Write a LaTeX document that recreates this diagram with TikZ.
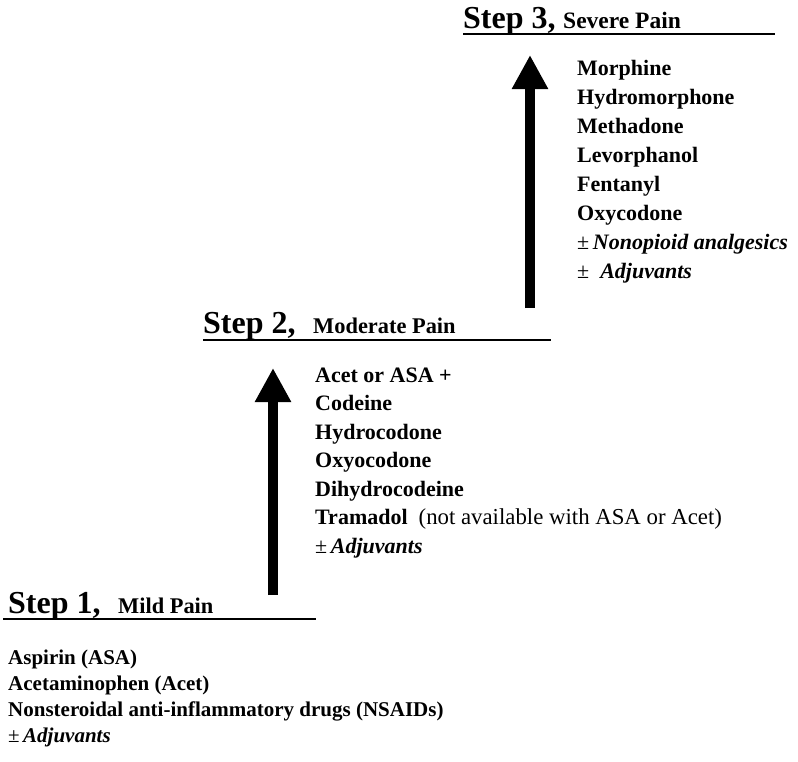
\documentclass[tikz,border=0pt]{standalone}
\usepackage{fontspec}
\setmainfont{Liberation Serif}
\usetikzlibrary{arrows.meta,positioning}
\newcommand{\plusminus}{{\mdseries ±}}

\begin{document}
\begin{tikzpicture}[
  x=1pt,y=-1pt,
  steptitle/.style={anchor=base west,inner sep=0pt,font=\bfseries\fontsize{32}{32}\selectfont},
  paintitle/.style={anchor=base west,inner sep=0pt,font=\bfseries\fontsize{22.4}{22.4}\selectfont},
  druglist/.style={anchor=base west,inner sep=0pt,align=left,font=\bfseries\fontsize{22}{29}\selectfont},
  rule/.style={line width=1.8pt},
  uparr/.style={line width=10pt,-{Triangle[length=34pt,width=34pt]}}
]
  \useasboundingbox (0,0) rectangle (798,761);

  % step 1 (lists sit on the baseline of their last line)
  \node[steptitle] (step1) at (8,613) {Step 1,};
  \node[paintitle] (mild) at (118,613) {Mild Pain};
  \draw[rule] (3,619) -- (316,619);
  \node[druglist,font=\bfseries\fontsize{21}{25.7}\selectfont] (list1) at (8,742)
    {Aspirin (ASA)\\
     Acetaminophen (Acet)\\
     Nonsteroidal anti-inflammatory drugs (NSAIDs)\\
     \plusminus\,\textit{Adjuvants}};

  % step 2
  \node[steptitle] (step2) at (203,333) {Step 2,};
  \node[paintitle] (moderate) at (313,333) {Moderate Pain};
  \draw[rule] (203,340) -- (551,340);
  \node[druglist,font=\bfseries\fontsize{22}{28.5}\selectfont] (list2) at (315,553)
    {Acet or ASA +\\
     Codeine\\
     Hydrocodone\\
     Oxyocodone\\
     Dihydrocodeine\\
     Tramadol\ \ {\mdseries\fontsize{22.8}{28.5}\selectfont (not available with ASA or Acet)}\\
     \plusminus\,\textit{Adjuvants}};

  % step 3
  \node[steptitle] (step3) at (463,28) {Step 3,};
  \node[paintitle,font=\bfseries\fontsize{23.5}{23.5}\selectfont] (severe) at (563,28) {Severe Pain};
  \draw[rule] (463,34) -- (775,34);
  \node[druglist] (list3) at (577,278)
    {Morphine\\
     Hydromorphone\\
     Methadone\\
     Levorphanol\\
     Fentanyl\\
     Oxycodone\\
     \plusminus\,\textit{Nonopioid analgesics}\\
     \plusminus\ \ \textit{Adjuvants}};

  % arrows between the steps
  \coordinate (a1from) at (273,595);
  \coordinate (a1to) at (273,368);
  \coordinate (a2from) at (530,308);
  \coordinate (a2to) at (530,55);
  \draw[uparr] (a1from) -- (a1to);
  \draw[uparr] (a2from) -- (a2to);
\end{tikzpicture}
\end{document}
